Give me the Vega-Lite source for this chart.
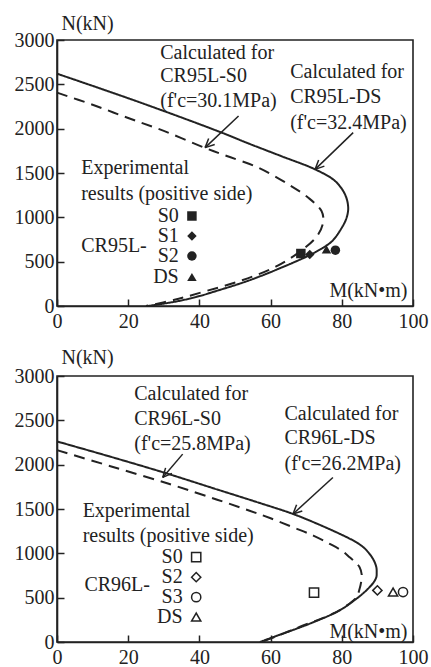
{
  "$schema": "https://vega.github.io/schema/vega-lite/v6.json",
  "background": "#ffffff",
  "padding": {"left": 13, "top": 12, "right": 0, "bottom": 0},
  "spacing": 70,
  "bounds": "flush",
  "config": {
    "view": {"stroke": "#222", "strokeWidth": 1.6},
    "font": "Liberation Serif",
    "axis": {
      "grid": false, "format": "d", "labelFlush": false, "labelOverlap": false,
      "labelFont": "Liberation Serif", "labelFontSize": 20, "labelColor": "#222",
      "titleFont": "Liberation Serif", "titleFontSize": 20, "titleFontWeight": "normal", "titleColor": "#222",
      "tickColor": "#222", "tickWidth": 1.5, "tickSize": -7,
      "domainColor": "#222", "domainWidth": 1.6
    },
    "text": {"font": "Liberation Serif", "fontSize": 20, "color": "#222"}
  },
  "datasets": {
    "curves": [
      {"panel": "CR95L", "curve": "DS", "M": 0, "N": 2620},
      {"panel": "CR95L", "curve": "DS", "M": 22, "N": 2315},
      {"panel": "CR95L", "curve": "DS", "M": 45, "N": 1975},
      {"panel": "CR95L", "curve": "DS", "M": 54, "N": 1830},
      {"panel": "CR95L", "curve": "DS", "M": 63, "N": 1690},
      {"panel": "CR95L", "curve": "DS", "M": 72.5, "N": 1541},
      {"panel": "CR95L", "curve": "DS", "M": 78.1, "N": 1410},
      {"panel": "CR95L", "curve": "DS", "M": 80.9, "N": 1259},
      {"panel": "CR95L", "curve": "DS", "M": 81.8, "N": 1109},
      {"panel": "CR95L", "curve": "DS", "M": 81.3, "N": 990},
      {"panel": "CR95L", "curve": "DS", "M": 80, "N": 883},
      {"panel": "CR95L", "curve": "DS", "M": 77.5, "N": 740},
      {"panel": "CR95L", "curve": "DS", "M": 75.5, "N": 677},
      {"panel": "CR95L", "curve": "DS", "M": 71, "N": 575},
      {"panel": "CR95L", "curve": "DS", "M": 63, "N": 432},
      {"panel": "CR95L", "curve": "DS", "M": 53.5, "N": 282},
      {"panel": "CR95L", "curve": "DS", "M": 44, "N": 160},
      {"panel": "CR95L", "curve": "DS", "M": 40, "N": 112},
      {"panel": "CR95L", "curve": "DS", "M": 34, "N": 55},
      {"panel": "CR95L", "curve": "DS", "M": 25.5, "N": 0},
      {"panel": "CR95L", "curve": "S0", "M": 0, "N": 2406},
      {"panel": "CR95L", "curve": "S0", "M": 10, "N": 2270},
      {"panel": "CR95L", "curve": "S0", "M": 20, "N": 2120},
      {"panel": "CR95L", "curve": "S0", "M": 30, "N": 1975},
      {"panel": "CR95L", "curve": "S0", "M": 41.6, "N": 1782},
      {"panel": "CR95L", "curve": "S0", "M": 47.7, "N": 1692},
      {"panel": "CR95L", "curve": "S0", "M": 56.6, "N": 1560},
      {"panel": "CR95L", "curve": "S0", "M": 65, "N": 1372},
      {"panel": "CR95L", "curve": "S0", "M": 70.6, "N": 1221},
      {"panel": "CR95L", "curve": "S0", "M": 74.3, "N": 1071},
      {"panel": "CR95L", "curve": "S0", "M": 74.8, "N": 959},
      {"panel": "CR95L", "curve": "S0", "M": 73.4, "N": 809},
      {"panel": "CR95L", "curve": "S0", "M": 69.7, "N": 658},
      {"panel": "CR95L", "curve": "S0", "M": 62, "N": 455},
      {"panel": "CR95L", "curve": "S0", "M": 52, "N": 290},
      {"panel": "CR95L", "curve": "S0", "M": 42, "N": 170},
      {"panel": "CR95L", "curve": "S0", "M": 33, "N": 70},
      {"panel": "CR95L", "curve": "S0", "M": 25, "N": 0},
      {"panel": "CR96L", "curve": "DS", "M": 0, "N": 2262},
      {"panel": "CR96L", "curve": "DS", "M": 15, "N": 2090},
      {"panel": "CR96L", "curve": "DS", "M": 29.7, "N": 1915},
      {"panel": "CR96L", "curve": "DS", "M": 45, "N": 1720},
      {"panel": "CR96L", "curve": "DS", "M": 56, "N": 1580},
      {"panel": "CR96L", "curve": "DS", "M": 66.3, "N": 1444},
      {"panel": "CR96L", "curve": "DS", "M": 73, "N": 1335},
      {"panel": "CR96L", "curve": "DS", "M": 78.5, "N": 1237},
      {"panel": "CR96L", "curve": "DS", "M": 82, "N": 1170},
      {"panel": "CR96L", "curve": "DS", "M": 84.1, "N": 1125},
      {"panel": "CR96L", "curve": "DS", "M": 86.3, "N": 1060},
      {"panel": "CR96L", "curve": "DS", "M": 87.8, "N": 994},
      {"panel": "CR96L", "curve": "DS", "M": 89, "N": 920},
      {"panel": "CR96L", "curve": "DS", "M": 89.7, "N": 844},
      {"panel": "CR96L", "curve": "DS", "M": 89.8, "N": 780},
      {"panel": "CR96L", "curve": "DS", "M": 89.7, "N": 731},
      {"panel": "CR96L", "curve": "DS", "M": 88.9, "N": 670},
      {"panel": "CR96L", "curve": "DS", "M": 87.8, "N": 619},
      {"panel": "CR96L", "curve": "DS", "M": 86.3, "N": 560},
      {"panel": "CR96L", "curve": "DS", "M": 84.1, "N": 488},
      {"panel": "CR96L", "curve": "DS", "M": 79.4, "N": 357},
      {"panel": "CR96L", "curve": "DS", "M": 71, "N": 207},
      {"panel": "CR96L", "curve": "DS", "M": 63.4, "N": 94},
      {"panel": "CR96L", "curve": "DS", "M": 57, "N": 0},
      {"panel": "CR96L", "curve": "S0", "M": 0, "N": 2164},
      {"panel": "CR96L", "curve": "S0", "M": 15, "N": 1983},
      {"panel": "CR96L", "curve": "S0", "M": 31.6, "N": 1782},
      {"panel": "CR96L", "curve": "S0", "M": 45, "N": 1605},
      {"panel": "CR96L", "curve": "S0", "M": 54.1, "N": 1481},
      {"panel": "CR96L", "curve": "S0", "M": 60, "N": 1395},
      {"panel": "CR96L", "curve": "S0", "M": 66.3, "N": 1294},
      {"panel": "CR96L", "curve": "S0", "M": 72, "N": 1200},
      {"panel": "CR96L", "curve": "S0", "M": 76.6, "N": 1107},
      {"panel": "CR96L", "curve": "S0", "M": 80, "N": 1030},
      {"panel": "CR96L", "curve": "S0", "M": 82.2, "N": 956},
      {"panel": "CR96L", "curve": "S0", "M": 84, "N": 890},
      {"panel": "CR96L", "curve": "S0", "M": 85, "N": 844},
      {"panel": "CR96L", "curve": "S0", "M": 85.6, "N": 760},
      {"panel": "CR96L", "curve": "S0", "M": 85.5, "N": 694},
      {"panel": "CR96L", "curve": "S0", "M": 85, "N": 600},
      {"panel": "CR96L", "curve": "S0", "M": 84.1, "N": 506},
      {"panel": "CR96L", "curve": "S0", "M": 81, "N": 400},
      {"panel": "CR96L", "curve": "S0", "M": 77.5, "N": 319},
      {"panel": "CR96L", "curve": "S0", "M": 68.1, "N": 169},
      {"panel": "CR96L", "curve": "S0", "M": 62, "N": 70},
      {"panel": "CR96L", "curve": "S0", "M": 57.5, "N": 0}
    ],
    "arrows": [
      {"panel": "CR95L", "M": 51.0, "N": 2143, "M2": 41.6, "N2": 1786},
      {"panel": "CR95L", "M": 44.3, "N": 1821, "M2": 41.6, "N2": 1786},
      {"panel": "CR95L", "M": 42.6, "N": 1890, "M2": 41.6, "N2": 1786},
      {"panel": "CR95L", "M": 83.2, "N": 1955, "M2": 72.5, "N2": 1541},
      {"panel": "CR95L", "M": 75.1, "N": 1578, "M2": 72.5, "N2": 1541},
      {"panel": "CR95L", "M": 73.5, "N": 1647, "M2": 72.5, "N2": 1541},
      {"panel": "CR96L", "M": 35.3, "N": 2119, "M2": 29.7, "N2": 1856},
      {"panel": "CR96L", "M": 32.3, "N": 1902, "M2": 29.7, "N2": 1856},
      {"panel": "CR96L", "M": 30.5, "N": 1964, "M2": 29.7, "N2": 1856},
      {"panel": "CR96L", "M": 77.5, "N": 1856, "M2": 66.3, "N2": 1444},
      {"panel": "CR96L", "M": 68.9, "N": 1478, "M2": 66.3, "N2": 1444},
      {"panel": "CR96L", "M": 67.3, "N": 1548, "M2": 66.3, "N2": 1444}
    ],
    "points": [
      {"panel": "CR95L", "specimen": "CR95L-S0", "M": 68.5, "N": 592},
      {"panel": "CR95L", "specimen": "CR95L-S1", "M": 71, "N": 580},
      {"panel": "CR95L", "specimen": "CR95L-DS", "M": 75.7, "N": 639},
      {"panel": "CR95L", "specimen": "CR95L-S2", "M": 78.2, "N": 630},
      {"panel": "CR95L", "specimen": "CR95L-S0", "M": 37.9, "N": 1015},
      {"panel": "CR95L", "specimen": "CR95L-S1", "M": 37.9, "N": 789},
      {"panel": "CR95L", "specimen": "CR95L-S2", "M": 37.9, "N": 564},
      {"panel": "CR95L", "specimen": "CR95L-DS", "M": 37.9, "N": 327},
      {"panel": "CR96L", "specimen": "CR96L-S0", "M": 72.2, "N": 556},
      {"panel": "CR96L", "specimen": "CR96L-S2", "M": 90, "N": 582},
      {"panel": "CR96L", "specimen": "CR96L-DS", "M": 94.4, "N": 563},
      {"panel": "CR96L", "specimen": "CR96L-S3", "M": 97.2, "N": 563},
      {"panel": "CR96L", "specimen": "CR96L-S0", "M": 39.1, "N": 957},
      {"panel": "CR96L", "specimen": "CR96L-S2", "M": 39.1, "N": 731},
      {"panel": "CR96L", "specimen": "CR96L-S3", "M": 39.1, "N": 506},
      {"panel": "CR96L", "specimen": "CR96L-DS", "M": 39.1, "N": 281}
    ],
    "labels": [
      {"panel": "CR95L", "M": 29.0, "N": 2857, "text": "Calculated for"},
      {"panel": "CR95L", "M": 29.0, "N": 2594, "text": "CR95L-S0"},
      {"panel": "CR95L", "M": 29.0, "N": 2312, "text": "(f'c=30.1MPa)"},
      {"panel": "CR95L", "M": 65.5, "N": 2643, "text": "Calculated for"},
      {"panel": "CR95L", "M": 65.5, "N": 2361, "text": "CR95L-DS"},
      {"panel": "CR95L", "M": 65.5, "N": 2067, "text": "(f'c=32.4MPa)"},
      {"panel": "CR95L", "M": 6.8, "N": 1560, "text": "Experimental"},
      {"panel": "CR95L", "M": 6.8, "N": 1267, "text": "results (positive side)"},
      {"panel": "CR95L", "M": 6.8, "N": 677, "text": "CR95L-"},
      {"panel": "CR96L", "M": 21.7, "N": 2794, "text": "Calculated for"},
      {"panel": "CR96L", "M": 21.7, "N": 2513, "text": "CR96L-S0"},
      {"panel": "CR96L", "M": 21.7, "N": 2232, "text": "(f'c=25.8MPa)"},
      {"panel": "CR96L", "M": 63.9, "N": 2569, "text": "Calculated for"},
      {"panel": "CR96L", "M": 63.9, "N": 2299, "text": "CR96L-DS"},
      {"panel": "CR96L", "M": 63.9, "N": 2007, "text": "(f'c=26.2MPa)"},
      {"panel": "CR96L", "M": 7.2, "N": 1481, "text": "Experimental"},
      {"panel": "CR96L", "M": 7.2, "N": 1200, "text": "results (positive side)"},
      {"panel": "CR96L", "M": 7.7, "N": 638, "text": "CR96L-"}
    ],
    "keys": [
      {"panel": "CR95L", "M": 34.2, "N": 1015, "text": "S0"},
      {"panel": "CR95L", "M": 34.2, "N": 789, "text": "S1"},
      {"panel": "CR95L", "M": 34.2, "N": 564, "text": "S2"},
      {"panel": "CR95L", "M": 34.2, "N": 327, "text": "DS"},
      {"panel": "CR96L", "M": 35.3, "N": 957, "text": "S0"},
      {"panel": "CR96L", "M": 35.3, "N": 731, "text": "S2"},
      {"panel": "CR96L", "M": 35.3, "N": 506, "text": "S3"},
      {"panel": "CR96L", "M": 35.3, "N": 281, "text": "DS"}
    ]
  },
  "vconcat": [
    {
      "width": 356, "height": 266,
      "encoding": {
        "x": {"field": "M", "type": "quantitative", "scale": {"domain": [0, 100], "nice": false},
          "axis": {"values": [0, 20, 40, 60, 80, 100], "title": "M(kN•m)", "titleAlign": "right", "titleBaseline": "alphabetic", "titleX": 350, "titleY": -10, "labelPadding": 12}},
        "y": {"field": "N", "type": "quantitative", "scale": {"domain": [0, 3000], "nice": false},
          "axis": {"values": [0, 500, 1000, 1500, 2000, 2500, 3000], "title": "N(kN)", "titleAngle": 0, "titleAlign": "left", "titleBaseline": "alphabetic", "titleX": 4, "titleY": -11, "labelPadding": 10}}
      },
      "layer": [
        {"data": {"name": "curves"}, "transform": [{"filter": "datum.panel == 'CR95L'"}],
          "mark": {"type": "line", "color": "#222", "strokeWidth": 2, "interpolate": "catmull-rom"},
          "encoding": {"detail": {"field": "curve"}, "order": {"field": "N", "type": "quantitative", "sort": "descending"},
            "strokeDash": {"field": "curve", "type": "nominal", "scale": {"domain": ["DS", "S0"], "range": [[1, 0], [11, 7]]}, "legend": null}}},
        {"data": {"name": "arrows"}, "transform": [{"filter": "datum.panel == 'CR95L'"}],
          "mark": {"type": "rule", "color": "#222", "strokeWidth": 1.5},
          "encoding": {"x2": {"field": "M2"}, "y2": {"field": "N2"}}},
        {"data": {"name": "points"}, "transform": [{"filter": "datum.panel == 'CR95L'"}],
          "mark": {"type": "point", "filled": true, "color": "#222", "size": 90, "opacity": 1},
          "encoding": {"shape": {"field": "specimen", "type": "nominal", "legend": null,
            "scale": {"domain": ["CR95L-S0", "CR95L-S1", "CR95L-S2", "CR95L-DS", "CR96L-S0", "CR96L-S2", "CR96L-S3", "CR96L-DS"],
              "range": ["square", "diamond", "circle", "triangle-up", "square", "diamond", "circle", "triangle-up"]}}}},
        {"data": {"name": "labels"}, "transform": [{"filter": "datum.panel == 'CR95L'"}],
          "mark": {"type": "text", "align": "left", "baseline": "middle"},
          "encoding": {"text": {"field": "text"}}},
        {"data": {"name": "keys"}, "transform": [{"filter": "datum.panel == 'CR95L'"}],
          "mark": {"type": "text", "align": "right", "baseline": "middle"},
          "encoding": {"text": {"field": "text"}}}
      ]
    },
    {
      "width": 356, "height": 266,
      "encoding": {
        "x": {"field": "M", "type": "quantitative", "scale": {"domain": [0, 100], "nice": false},
          "axis": {"values": [0, 20, 40, 60, 80, 100], "title": "M(kN•m)", "titleAlign": "right", "titleBaseline": "alphabetic", "titleX": 350, "titleY": -5, "labelPadding": 12}},
        "y": {"field": "N", "type": "quantitative", "scale": {"domain": [0, 3000], "nice": false},
          "axis": {"values": [0, 500, 1000, 1500, 2000, 2500, 3000], "title": "N(kN)", "titleAngle": 0, "titleAlign": "left", "titleBaseline": "alphabetic", "titleX": 4, "titleY": -13, "labelPadding": 10}}
      },
      "layer": [
        {"data": {"name": "curves"}, "transform": [{"filter": "datum.panel == 'CR96L'"}],
          "mark": {"type": "line", "color": "#222", "strokeWidth": 2, "interpolate": "catmull-rom"},
          "encoding": {"detail": {"field": "curve"}, "order": {"field": "N", "type": "quantitative", "sort": "descending"},
            "strokeDash": {"field": "curve", "type": "nominal", "scale": {"domain": ["DS", "S0"], "range": [[1, 0], [10, 7]]}, "legend": null}}},
        {"data": {"name": "arrows"}, "transform": [{"filter": "datum.panel == 'CR96L'"}],
          "mark": {"type": "rule", "color": "#222", "strokeWidth": 1.5},
          "encoding": {"x2": {"field": "M2"}, "y2": {"field": "N2"}}},
        {"data": {"name": "points"}, "transform": [{"filter": "datum.panel == 'CR96L'"}],
          "mark": {"type": "point", "filled": false, "color": "#222", "size": 85, "strokeWidth": 1.5, "opacity": 1},
          "encoding": {"shape": {"field": "specimen", "type": "nominal", "legend": null,
            "scale": {"domain": ["CR95L-S0", "CR95L-S1", "CR95L-S2", "CR95L-DS", "CR96L-S0", "CR96L-S2", "CR96L-S3", "CR96L-DS"],
              "range": ["square", "diamond", "circle", "triangle-up", "square", "diamond", "circle", "triangle-up"]}}}},
        {"data": {"name": "labels"}, "transform": [{"filter": "datum.panel == 'CR96L'"}],
          "mark": {"type": "text", "align": "left", "baseline": "middle"},
          "encoding": {"text": {"field": "text"}}},
        {"data": {"name": "keys"}, "transform": [{"filter": "datum.panel == 'CR96L'"}],
          "mark": {"type": "text", "align": "right", "baseline": "middle"},
          "encoding": {"text": {"field": "text"}}}
      ]
    }
  ]
}
